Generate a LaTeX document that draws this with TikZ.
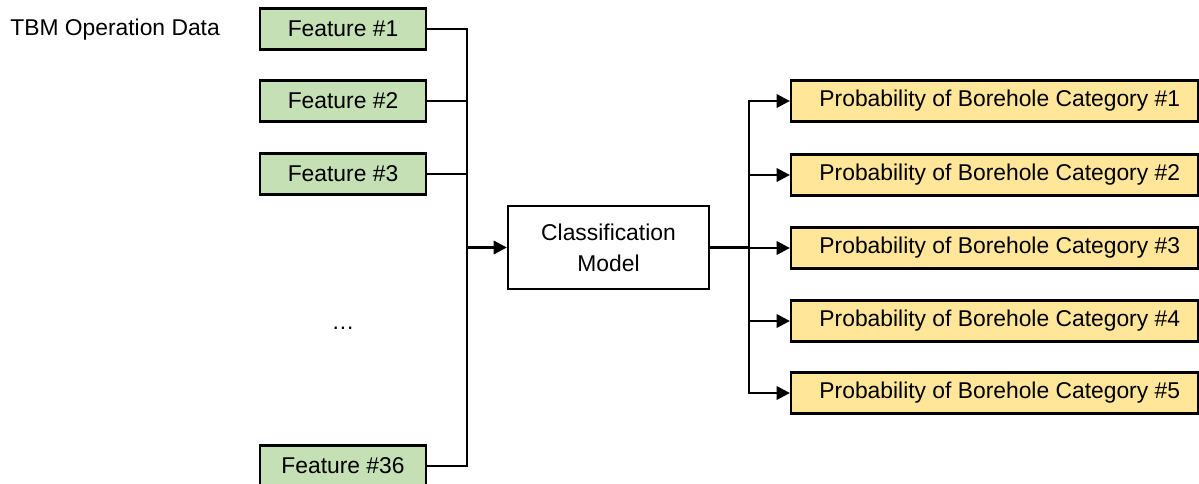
\documentclass[tikz,border=0pt]{standalone}
\usepackage{fontspec}
\setmainfont{Liberation Sans}
\usepackage{tikz}
\usetikzlibrary{arrows.meta,positioning,calc}
\definecolor{featgreen}{HTML}{C5E0B4}
\definecolor{probyellow}{HTML}{FFE699}

\begin{document}
\begin{tikzpicture}[x=0.02cm, y=-0.02cm,
    every node/.style={font=\fontsize{13}{15.6}\selectfont, inner sep=0pt},
    featbox/.style={draw, line width=1.3pt, fill=featgreen, minimum width=3.32cm, minimum height=0.82cm},
    modelbox/.style={draw, line width=1.3pt, fill=white, minimum width=4.02cm, minimum height=1.66cm, align=center},
    probbox/.style={draw, line width=1.3pt, fill=probyellow, minimum width=8.14cm, minimum height=0.82cm},
    link/.style={line width=1.5pt},
    arr/.style={line width=1.5pt, -{Triangle[length=7.5pt,width=7.5pt]}}]
    \path[use as bounding box] (0,0) rectangle (1199,483);

    % Input features
    \node[anchor=west] (title) at (10,30) {TBM Operation Data};
    \node[featbox] (f1) at (343,29) {Feature \#1};
    \node[featbox] (f2) at (343,101) {Feature \#2};
    \node[featbox] (f3) at (343,174) {Feature \#3};
    \node (dots) at (343,328) {…};
    \node[featbox] (f36) at (343,466) {Feature \#36};

    % Model
    \node[modelbox] (model) at (608.5,247.5) {Classification\\[2pt]Model};

    % Outputs
    \node[probbox] (p1) at (994.5,101) {\hspace{6pt}Probability of Borehole Category \#1};
    \node[probbox] (p2) at (994.5,175) {\hspace{6pt}Probability of Borehole Category \#2};
    \node[probbox] (p3) at (994.5,248) {\hspace{6pt}Probability of Borehole Category \#3};
    \node[probbox] (p4) at (994.5,321) {\hspace{6pt}Probability of Borehole Category \#4};
    \node[probbox] (p5) at (994.5,393) {\hspace{6pt}Probability of Borehole Category \#5};

    % Buses
    \coordinate (busin) at (467,247.5);
    \coordinate (busout) at (749,247.5);

    % Arrows
    \foreach \f in {f1,f2,f3,f36}
        \draw[link] (\f.east) -| (busin);
    \draw[arr] (busin) -- (model.west);
    \draw[link] (model.east) -- (busout);
    \foreach \p in {p1,p2,p3,p4,p5}
        \draw[arr] (busout) |- (\p.west);
\end{tikzpicture}
\end{document}
